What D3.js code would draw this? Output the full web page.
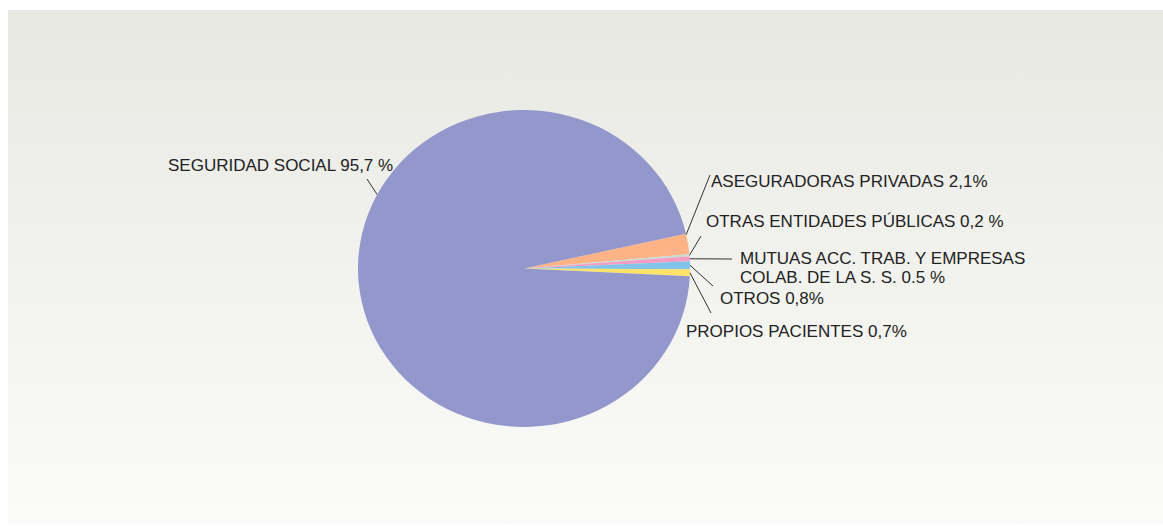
<!DOCTYPE html>
<html><head><meta charset="utf-8">
<script src="https://cdn.jsdelivr.net/npm/d3@7"></script>
<style>html,body{margin:0;padding:0;background:#fff;}svg{display:block;}</style>
</head><body>
<svg id="c" width="1163" height="527"></svg>
<script>
const categories = ["ASEGURADORAS PRIVADAS 2,1%", "OTRAS ENTIDADES PÚBLICAS 0,2 %", "MUTUAS ACC. TRAB. Y EMPRESAS|COLAB. DE LA S. S. 0.5 %", "OTROS 0,8%", "PROPIOS PACIENTES 0,7%", "SEGURIDAD SOCIAL 95,7 %"];
const values = [2.1, 0.2, 0.5, 0.8, 0.7, 95.7];
const colors = ["#fdb385", "#bfe0d6", "#f59cc2", "#82c4e9", "#fde36c", "#9497cb"];

// layout: where the leader line leaves the slice (fraction of slice), where it ends, where the text sits
const layout = [
  {at: 0.05, end: [710, 175], tx: 711, ty: 181, anchor: "start"},
  {at: 0.5, end: [701, 236], tx: 706, ty: 221, anchor: "start"},
  {at: 0.5, end: [732, 259], tx: 740, ty: 258, anchor: "start"},
  {at: 0.5, end: [713, 286], tx: 720, ty: 298, anchor: "start"},
  {at: 0.5, end: [711, 313], tx: 686, ty: 331, anchor: "start"},
  {atAngle: 297.8, end: [367, 179], tx: 168, ty: 165, anchor: "start"}
];

const svg = d3.select("#c");
const defs = svg.append("defs");
const g = defs.append("linearGradient").attr("id","bg").attr("x1",0).attr("y1",0).attr("x2",0).attr("y2",1);
g.append("stop").attr("offset","0%").attr("stop-color","#e8e8e3");
g.append("stop").attr("offset","100%").attr("stop-color","#fbfbf9");
svg.append("rect").attr("x",8).attr("y",10).attr("width",1155).attr("height",514).attr("fill","url(#bg)");

const cx = 524, cy = 268.5, rx = 166, ry = 158.5;
const toRad = d => d * Math.PI / 180;
const pie = d3.pie().sort(null).value(d => d).startAngle(toRad(77.3)).endAngle(toRad(77.3 + 360));
const arcs = pie(values);
const arc = d3.arc().innerRadius(0).outerRadius(rx);

const pg = svg.append("g").attr("transform", `translate(${cx},${cy}) scale(1,${ry/rx})`);
pg.selectAll("path").data(arcs).join("path")
  .attr("d", arc).attr("fill", (d,i) => colors[i]).attr("stroke", "none");

function edgePoint(a){ return [cx + rx*Math.sin(a), cy - ry*Math.cos(a)]; }

const lg = svg.append("g");
arcs.forEach((d,i) => {
  const L = layout[i];
  const a = L.atAngle !== undefined ? toRad(L.atAngle) : d.startAngle + (d.endAngle - d.startAngle)*L.at;
  const p = edgePoint(a);
  lg.append("line").attr("x1", p[0]).attr("y1", p[1]).attr("x2", L.end[0]).attr("y2", L.end[1])
    .attr("stroke", "#333").attr("stroke-width", 1);
  const lines = categories[i].split("|");
  const t = lg.append("text").attr("x", L.tx).attr("y", L.ty).attr("text-anchor", L.anchor)
    .attr("font-family", "'Liberation Sans', Arial, sans-serif").attr("font-size", 17).attr("fill", "#222")
    .attr("dominant-baseline", "central");
  lines.forEach((s,k) => t.append("tspan").attr("x", L.tx).attr("dy", k === 0 ? 0 : 19).text(s));
});
</script>
</body></html>
